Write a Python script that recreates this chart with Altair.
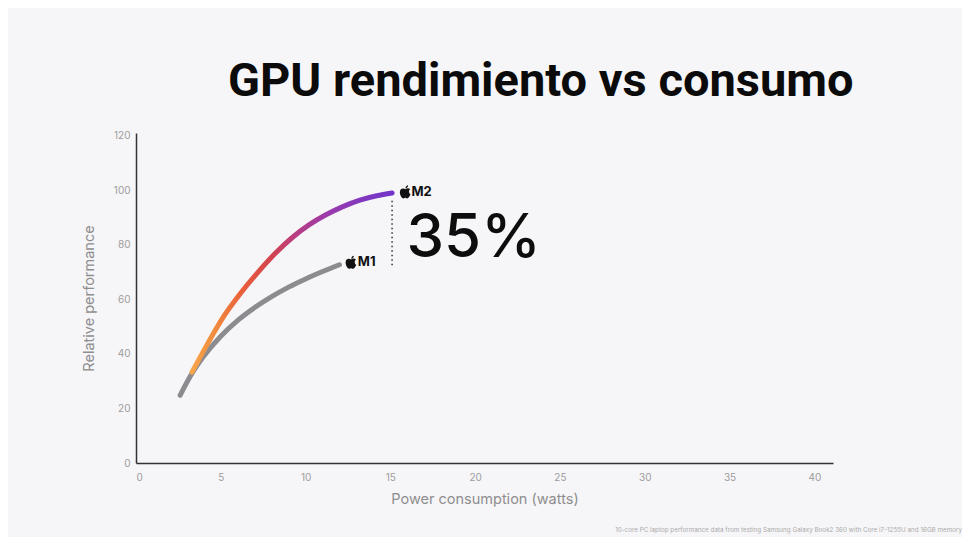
import altair as alt
import pandas as pd

# values
m1_watts = [2.6, 3.2, 4.0, 5.0, 6.0, 7.0, 8.0, 9.0, 10.0, 11.0, 12.0]
m1_perf = [24.8, 31.8, 39.2, 46.5, 52.3, 57.0, 61.0, 64.5, 67.5, 70.2, 72.7]

m2_watts = [3.3, 4.2, 5.2, 6.2, 7.2, 8.2, 9.2, 10.2, 11.2, 12.2, 13.2, 14.2, 15.1]
m2_perf = [33.3, 43.5, 54.0, 62.5, 70.0, 76.8, 82.6, 87.3, 91.0, 94.0, 96.4, 98.0, 99.0]

x_ticks = [0, 5, 10, 15, 20, 25, 30, 35, 40]
y_ticks = [0, 20, 40, 60, 80, 100, 120]

gap_watts = 15.1
gap_from = 72.5
gap_to = 97.0

labels = ["M2", "M1"]
label_watts = [16.24, 13.08]
label_perf = [99.4, 73.6]
logo_watts = [15.88, 12.68]

big_text = "35%"
big_watts = 15.95
big_perf = 75.4

title = "GPU rendimiento vs consumo"
footnote = ("10-core PC laptop performance data from testing Samsung Galaxy Book2 360 "
            "with Core i7-1255U and 16GB memory")

BG = "#f6f5f8"
GRAY = "#8c8c90"

# rough apple outline, unit coordinates
APPLE = (
    "M0,-0.42 C-0.25,-0.6 -0.82,-0.58 -0.82,0.05 C-0.82,0.52 -0.52,0.98 -0.27,0.98 "
    "C-0.12,0.98 -0.07,0.9 0,0.9 C0.07,0.9 0.12,0.98 0.27,0.98 "
    "C0.47,0.98 0.7,0.62 0.8,0.36 C0.52,0.24 0.46,-0.24 0.74,-0.4 "
    "C0.56,-0.62 0.25,-0.6 0,-0.42 Z "
    "M0.02,-0.52 C0.02,-0.78 0.22,-1 0.42,-1 C0.44,-0.76 0.24,-0.55 0.02,-0.52 Z"
)

m1 = pd.DataFrame({"watts": m1_watts, "perf": m1_perf})
m2 = pd.DataFrame({"watts": m2_watts, "perf": m2_perf})
gap = pd.DataFrame({"watts": [gap_watts], "lo": [gap_from], "hi": [gap_to]})
lab = pd.DataFrame({"watts": label_watts, "logo": logo_watts, "perf": label_perf, "name": labels})
big = pd.DataFrame({"watts": [big_watts], "perf": [big_perf], "t": [big_text]})

x_enc = alt.X(
    "watts:Q",
    title="Power consumption (watts)",
    scale=alt.Scale(domain=[0, 41.1], nice=False),
    axis=alt.Axis(values=x_ticks, grid=False, ticks=False, labelPadding=9,
                  titlePadding=10, titleFontSize=14.5),
)
y_enc = alt.Y(
    "perf:Q",
    title="Relative performance",
    scale=alt.Scale(domain=[0, 121], nice=False),
    axis=alt.Axis(values=y_ticks, grid=False, ticks=False, labelPadding=6,
                  titlePadding=17, titleFontSize=14.5),
)

m1_line = alt.Chart(m1).mark_line(
    color=GRAY, strokeWidth=5, strokeCap="round", interpolate="monotone"
).encode(x=x_enc, y=y_enc)

grad = alt.LinearGradient(
    gradient="linear",
    stops=[
        alt.GradientStop(offset=0, color="#f7a54a"),
        alt.GradientStop(offset=0.12, color="#f08a3e"),
        alt.GradientStop(offset=0.25, color="#ea5f3b"),
        alt.GradientStop(offset=0.4, color="#d2434f"),
        alt.GradientStop(offset=0.52, color="#b73d84"),
        alt.GradientStop(offset=0.68, color="#9a3aaa"),
        alt.GradientStop(offset=0.85, color="#8138bf"),
        alt.GradientStop(offset=1, color="#7234c8"),
    ],
    x1=0, x2=1, y1=0, y2=0,
)
m2_line = alt.Chart(m2).mark_line(
    color=grad, strokeWidth=5, strokeCap="round", interpolate="monotone"
).encode(x="watts:Q", y="perf:Q")

gap_rule = alt.Chart(gap).mark_rule(
    color="#333333", strokeWidth=1.5, strokeDash=[1.5, 3]
).encode(x="watts:Q", y="lo:Q", y2="hi:Q")

logos = alt.Chart(lab).mark_point(
    shape=APPLE, size=175, filled=True, color="#111111", opacity=1
).encode(x="logo:Q", y="perf:Q")

name_text = alt.Chart(lab).mark_text(
    align="left", baseline="middle", font="Inter", fontSize=13,
    fontWeight=700, color="#111111"
).encode(x="watts:Q", y="perf:Q", text="name:N")

big_label = alt.Chart(big).mark_text(
    align="left", baseline="alphabetic", font="Inter", fontSize=60,
    fontWeight=500, color="#0d0d0d"
).encode(x="watts:Q", y="perf:Q", text="t:N")

head = alt.Chart(pd.DataFrame({"t": [title]})).mark_text(
    align="left", baseline="alphabetic", font="Roboto", fontSize=47,
    fontWeight=700, color="#0b0b0b"
).encode(x=alt.value(92), y=alt.value(-37), text="t:N")

note = alt.Chart(pd.DataFrame({"t": [footnote]})).mark_text(
    align="right", baseline="middle", font="Inter", fontSize=6.3, color="#ababab"
).encode(x=alt.value(826), y=alt.value(397), text="t:N")

chart = (
    alt.layer(m1_line, m2_line, gap_rule, logos, name_text, big_label, head, note)
    .properties(
        width=697,
        height=330,
        autosize=alt.AutoSizeParams(type="none"),
        padding={"left": 128, "top": 125, "right": 129, "bottom": 74},
        background=BG,
    )
    .configure_view(stroke=None)
    .configure_axis(
        domainColor="#333333", domainWidth=1.5,
        labelColor="#9d9d9d", labelFont="Inter", labelFontSize=10,
        titleColor="#8e8e8e", titleFont="Inter", titleFontWeight=400,
    )
)

chart.save("out.html", embed_options={"renderer": "svg", "actions": False})
